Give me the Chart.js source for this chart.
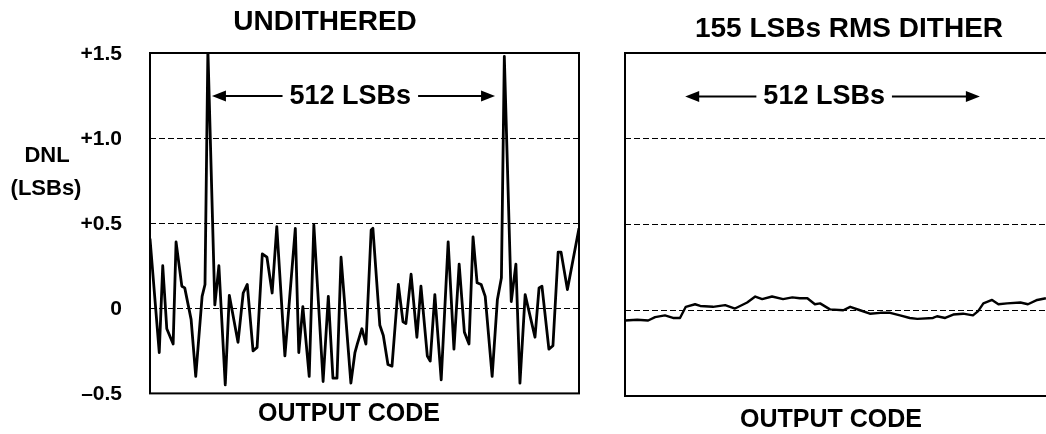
<!DOCTYPE html>
<html>
<head>
<meta charset="utf-8">
<script src="https://cdn.jsdelivr.net/npm/chart.js@4.4.1/dist/chart.umd.min.js"></script>
<style>
  html, body { margin: 0; padding: 0; background: #fff; overflow: hidden; width: 1046px; height: 434px; }
  .panel { position: absolute; top: 0; height: 434px; }
</style>
</head>
<body>
<div class="panel" style="left:0;width:600px"><canvas id="undithered"></canvas></div>
<div class="panel" style="left:600px;width:480px"><canvas id="dithered"></canvas></div>
<script>
// output code (LSB) and DNL (LSBs)
const undiCodes = [0, 16, 22, 29, 40, 45, 55, 60, 71, 79, 90, 95, 100, 112, 119, 130, 137, 152, 161, 168,
  178, 185, 194, 202, 211, 219, 233, 251, 257, 264, 275, 283, 299, 308, 316, 323, 330, 347, 354, 358,
  366, 373, 382, 385, 397, 403, 411, 418, 429, 437, 442, 451, 461, 468, 479, 484, 492, 503, 515, 525,
  534, 543, 551, 558, 565, 572, 579, 591, 600, 607, 612, 624, 632, 639, 648, 665, 672, 677, 689, 696,
  705, 710, 721, 741];
const undiDnl = [0.41, -0.26, 0.25, -0.12, -0.21, 0.39, 0.13, 0.12, -0.065, -0.40, 0.07, 0.14, 1.52, 0.02, 0.25, -0.45, 0.076, -0.20, 0.09, 0.14,
  -0.25, -0.23, 0.32, 0.30, 0.09, 0.48, -0.28, 0.47, -0.26, 0.01, -0.40, 0.49, -0.43, 0.07, -0.41, -0.41, 0.30, -0.44, -0.26, -0.21,
  -0.12, -0.21, 0.46, 0.47, -0.10, -0.16, -0.33, -0.34, 0.14, -0.08, -0.09, 0.20, -0.17, 0.13, -0.28, -0.31, 0.08, -0.42, 0.39, -0.24,
  0.26, -0.14, -0.21, 0.42, 0.15, 0.14, 0.07, -0.40, 0.05, 0.18, 1.48, 0.04, 0.26, -0.44, 0.08, -0.17, 0.12, 0.13, -0.24, -0.22,
  0.33, 0.33, 0.11, 0.47];

const ditherCodes = [0, 21, 40, 52, 69, 83, 95, 105, 121, 130, 152, 173, 190, 211, 225, 237, 254, 273, 289, 302,
  315, 328, 337, 354, 377, 389, 406, 423, 441, 458, 475, 492, 505, 532, 539, 553, 567, 584, 601, 610,
  619, 634, 645, 660, 683, 696, 712, 727];
const ditherDnl = [-0.06, -0.055, -0.06, -0.04, -0.03, -0.045, -0.045, 0.02, 0.035, 0.025, 0.02, 0.03, 0.01, 0.045, 0.08, 0.065, 0.08, 0.065, 0.075, 0.07,
  0.07, 0.035, 0.04, 0.005, 0, 0.02, 0, -0.02, -0.015, -0.015, -0.03, -0.045, -0.05, -0.045, -0.035, -0.045, -0.025, -0.02, -0.03, -0.005,
  0.04, 0.06, 0.035, 0.04, 0.045, 0.035, 0.06, 0.07];

const yTickValues = [-0.5, 0, 0.5, 1.0, 1.5];
const yTickLabels = ['\u20130.5', '0', '+0.5', '+1.0', '+1.5'];
const panelTitles = ['UNDITHERED', '155 LSBs RMS DITHER'];
const spanLabel = '512 LSBs';
const xTitle = 'OUTPUT CODE';

const FONT = '"Liberation Sans", Arial, Helvetica, sans-serif';
const CODE_MAX = 741;

// frame, titles, "512 LSBs" arrows, axis captions
const decor = {
  id: 'decor',
  afterDatasetsDraw(chart, args, o) {
    const { ctx, chartArea: a, scales: { x, y } } = chart;
    ctx.save();
    ctx.strokeStyle = '#000';
    ctx.lineWidth = 2;
    ctx.strokeRect(a.left, a.top, a.right - a.left, a.bottom - a.top);

    ctx.fillStyle = '#000';
    ctx.textAlign = 'center';
    ctx.textBaseline = 'middle';
    ctx.font = `bold 28px ${FONT}`;
    ctx.fillText(o.title, o.titleX, o.titleY);

    ctx.font = `bold 25px ${FONT}`;
    ctx.fillText(xTitle, o.capX, o.capY);

    const ay = y.getPixelForValue(o.arrowAt);
    const x1 = x.getPixelForValue(o.from), x2 = x.getPixelForValue(o.to);
    const xc = x.getPixelForValue(o.center);
    ctx.font = `bold 27px ${FONT}`;
    ctx.fillText(spanLabel, xc, ay);
    const half = ctx.measureText(spanLabel).width / 2 + 7;
    ctx.lineWidth = 2;
    ctx.beginPath();
    ctx.moveTo(x1 + 10, ay); ctx.lineTo(xc - half, ay);
    ctx.moveTo(xc + half, ay); ctx.lineTo(x2 - 10, ay);
    ctx.stroke();
    for (const [tip, dir] of [[x1, 1], [x2, -1]]) {
      ctx.beginPath();
      ctx.moveTo(tip, ay);
      ctx.lineTo(tip + dir * 14, ay - 5.5);
      ctx.lineTo(tip + dir * 14, ay + 5.5);
      ctx.closePath();
      ctx.fill();
    }

    if (o.yLabel) {
      ctx.font = `bold 22px ${FONT}`;
      ctx.fillText('DNL', 47, 156);
      ctx.fillText('(LSBs)', 46, 189);
    }
    ctx.restore();
  }
};

function makeChart(id, codes, dnl, lineWidth, showTicks, padLeft, padRight, decorOpts) {
  return new Chart(document.getElementById(id), {
    type: 'line',
    data: {
      datasets: [{
        data: codes.map((c, i) => ({ x: c, y: dnl[i] })),
        borderColor: '#000',
        borderWidth: lineWidth,
        borderJoinStyle: 'round',
        pointRadius: 0,
        tension: 0,
        fill: false
      }]
    },
    options: {
      responsive: true,
      maintainAspectRatio: false,
      animation: false,
      events: [],
      layout: { padding: { left: showTicks ? 0 : padLeft, right: padRight, top: 53, bottom: 0 } },
      plugins: { legend: { display: false }, tooltip: { enabled: false }, decor: decorOpts },
      scales: {
        x: {
          type: 'linear', min: 0, max: CODE_MAX,
          ticks: { display: false },
          grid: { display: false },
          border: { display: false },
          afterFit: s => { s.height = 38; }
        },
        y: {
          min: -0.5, max: 1.5,
          afterBuildTicks: s => { s.ticks = yTickValues.map(v => ({ value: v })); },
          ticks: {
            display: showTicks,
            color: '#000',
            padding: 28,
            labelOffset: 1,
            font: { family: FONT, size: 21, weight: 'bold' },
            callback: v => yTickLabels[yTickValues.indexOf(v)]
          },
          grid: {
            drawTicks: false,
            color: c => (c.tick && (c.tick.value === -0.5 || c.tick.value === 1.5)) ? 'rgba(0,0,0,0)' : '#000',
            lineWidth: 1
          },
          border: { display: false, dash: [6, 3] },
          afterFit: s => { s.width = showTicks ? 150 : 0; }
        }
      }
    },
    plugins: [decor]
  });
}

makeChart('undithered', undiCodes, undiDnl, 2.8, true, 0, 21,
  { title: panelTitles[0], titleX: 325, titleY: 22, capX: 349, capY: 414, arrowAt: 1.247, from: 107, to: 596, center: 346, yLabel: true });
makeChart('dithered', ditherCodes, ditherDnl, 2.4, false, 25, 26,
  { title: panelTitles[1], titleX: 249, titleY: 29, capX: 231, capY: 420, arrowAt: 1.247, from: 104, to: 613, center: 344, yLabel: false });
</script>
</body>
</html>
